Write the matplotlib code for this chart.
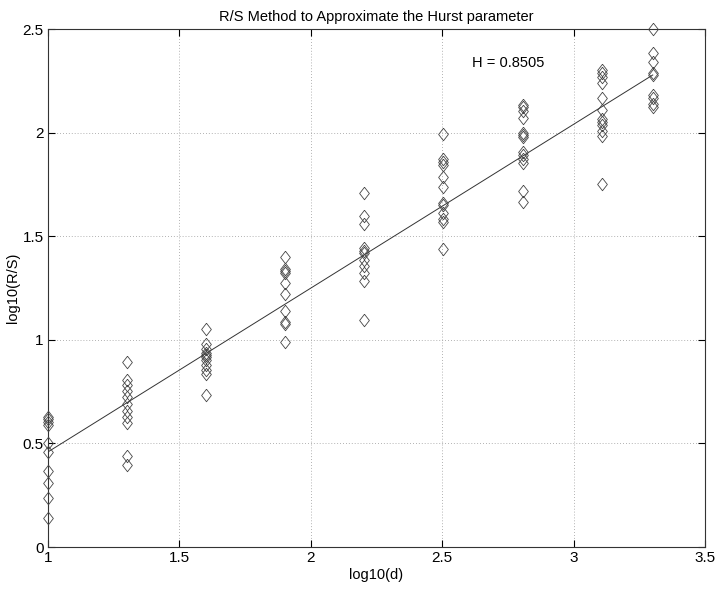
import numpy as np
import matplotlib.pyplot as plt

plt.rcParams['font.family'] = ['Liberation Sans', 'DejaVu Sans']

# block sizes d on a log10 scale
log_d = [1.0, 1.301, 1.602, 1.903, 2.204, 2.505, 2.806, 3.107, 3.301]

# log10(R/S) for every block at each size
log_rs = [
    [0.629, 0.616, 0.603, 0.587, 0.500, 0.460, 0.367, 0.310, 0.236, 0.141],
    [0.894, 0.806, 0.780, 0.753, 0.724, 0.690, 0.658, 0.629, 0.597, 0.439, 0.396],
    [1.052, 0.980, 0.954, 0.938, 0.927, 0.916, 0.903, 0.878, 0.854, 0.835, 0.734],
    [1.401, 1.342, 1.331, 1.321, 1.273, 1.221, 1.141, 1.088, 1.076, 0.991],
    [1.710, 1.598, 1.557, 1.442, 1.430, 1.417, 1.385, 1.356, 1.324, 1.285, 1.095],
    [1.992, 1.871, 1.858, 1.845, 1.784, 1.739, 1.662, 1.651, 1.610, 1.581, 1.568, 1.437],
    [2.133, 2.122, 2.106, 2.069, 1.997, 1.988, 1.980, 1.908, 1.890, 1.871, 1.855, 1.720, 1.666],
    [2.302, 2.286, 2.267, 2.241, 2.166, 2.109, 2.064, 2.051, 2.038, 2.009, 1.984, 1.752],
    [2.498, 2.386, 2.341, 2.289, 2.276, 2.183, 2.167, 2.138, 2.122],
]

# least squares line drawn over the points
fit_slope = 0.791
fit_intercept = -0.333
H = 0.8505

diamond = [(0, 1), (0.78, 0), (0, -1), (-0.78, 0), (0, 1)]

fig = plt.figure(figsize=(7.18, 5.92), dpi=100)
ax = fig.add_axes([0.0664, 0.076, 0.9156, 0.875])

for x, ys in zip(log_d, log_rs):
    ax.plot([x] * len(ys), ys, linestyle='none', marker=diamond, markersize=9,
            markerfacecolor='none', markeredgecolor='#444444', markeredgewidth=0.6,
            clip_on=False, zorder=3)

xf = np.array([log_d[0], log_d[-1]])
ax.plot(xf, fit_intercept + fit_slope * xf, color='#333333', linewidth=0.7)

ax.text(2.613, 2.337, 'H = %.4f' % H, fontsize=10.5, va='center', ha='left')

ax.set_xlim(1, 3.5)
ax.set_ylim(0, 2.5)
ax.set_xticks([1, 1.5, 2, 2.5, 3, 3.5])
ax.set_xticklabels(['1', '1.5', '2', '2.5', '3', '3.5'])
ax.set_yticks([0, 0.5, 1, 1.5, 2, 2.5])
ax.set_yticklabels(['0', '0.5', '1', '1.5', '2', '2.5'])
ax.grid(True, linestyle=(0, (1, 2.5)), color='#999999', linewidth=0.6)
ax.tick_params(direction='in', length=5, width=0.8, top=True, right=True,
               labelsize=11, pad=3)
for s in ax.spines.values():
    s.set_linewidth(0.8)
    s.set_color('#333333')

ax.set_xlabel('log10(d)', fontsize=10.5, labelpad=2)
ax.set_ylabel('log10(R/S)', fontsize=10.5, labelpad=2)
ax.set_title('R/S Method to Approximate the Hurst parameter', fontsize=10.5, pad=6)

fig.savefig('out.png', dpi=100)
